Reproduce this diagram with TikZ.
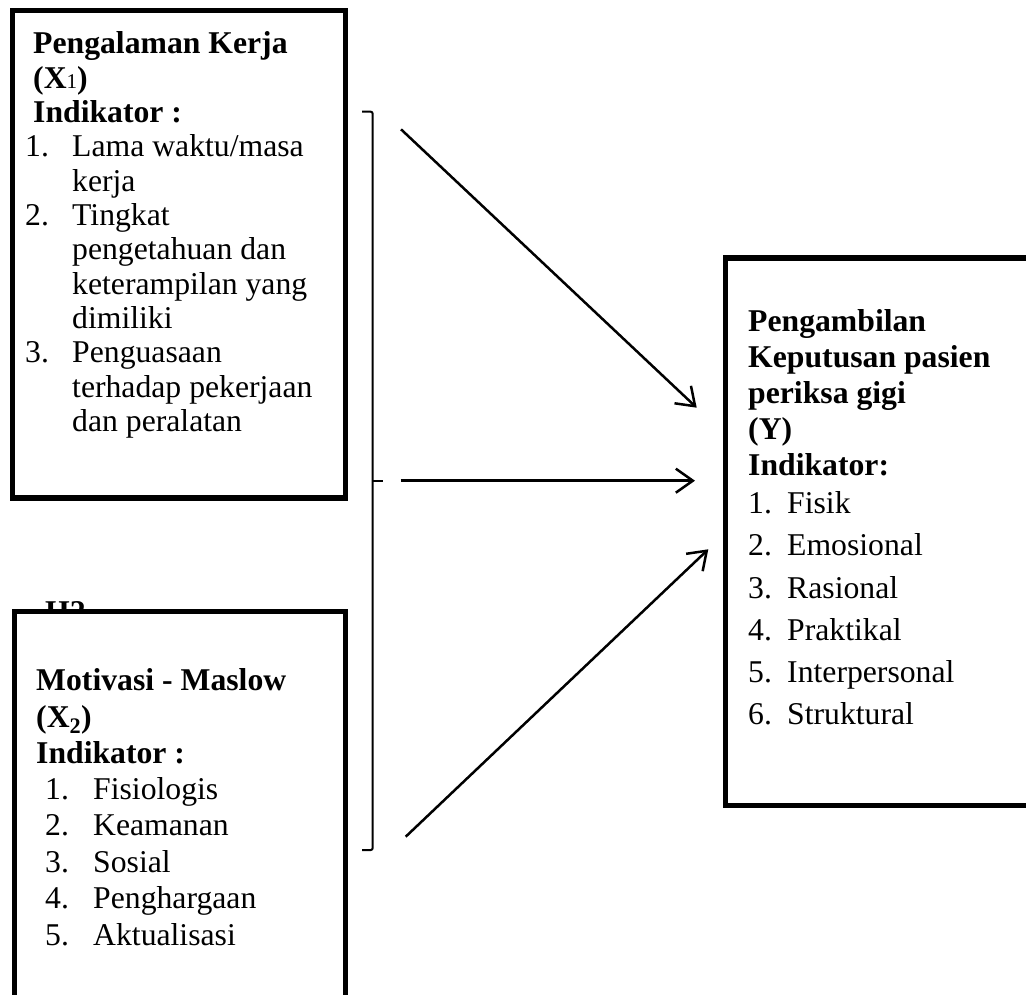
\documentclass[tikz,border=0pt]{standalone}
\usepackage{fontspec}
\setmainfont{Liberation Serif}
\usetikzlibrary{arrows.meta}
\tikzset{
  txt/.style={anchor=base west, inner sep=0pt, font=\fontsize{31.7}{34}\selectfont},
  btxt/.style={anchor=base west, inner sep=0pt, font=\fontsize{31.7}{34}\selectfont\bfseries},
  boxline/.style={draw=black, line width=5.5pt, fill=white, anchor=north west, inner sep=0pt, outer sep=0pt},
  brack/.style={line width=2pt, rounded corners=2pt},
  conn/.style={line width=2.5pt, -{Straight Barb[length=17pt,width=24pt]}},
}
\begin{document}
\begin{tikzpicture}[x=1pt,y=-1pt]
\useasboundingbox (0,0) rectangle (1026,995);
\clip (0,0) rectangle (1026,995);
\fill[white] (0,0) rectangle (1026,995);

% ---- X1 box
\node[boxline, minimum width=333pt, minimum height=487.5pt] (X1) at (12.5,10.5) {};
\node[btxt] (x1a) at (33,54) {Pengalaman Kerja};
\node[btxt] (x1b) at (33,88.3) {(X{\mdseries\fontsize{21}{21}\selectfont 1})};
\node[btxt] (x1c) at (33,122.6) {Indikator :};
\node[txt] (x1n1) at (25,156.9) {1.};
\node[txt] (x1d) at (72,156.9) {Lama waktu/masa};
\node[txt] (x1e) at (72,191.2) {kerja};
\node[txt] (x1n2) at (25,225.5) {2.};
\node[txt] (x1f) at (72,225.5) {Tingkat};
\node[txt] (x1g) at (72,259.8) {pengetahuan dan};
\node[txt] (x1h) at (72,294.1) {keterampilan yang};
\node[txt] (x1i) at (72,328.4) {dimiliki};
\node[txt] (x1n3) at (25,362.7) {3.};
\node[txt] (x1j) at (72,362.7) {Penguasaan};
\node[txt] (x1k) at (72,397.0) {terhadap pekerjaan};
\node[txt] (x1l) at (72,431.3) {dan peralatan};

% ---- hidden H2 label and X2 box
\node[btxt] (h2) at (45,622.5) {H2};
\node[boxline, minimum width=331pt, minimum height=420pt] (X2) at (14.5,611.5) {};
\node[btxt] (x2a) at (36,690) {Motivasi - Maslow};
\node[btxt] (x2b) at (36,727) {(X\textsubscript{2})};
\node[btxt] (x2c) at (36,763) {Indikator :};
\node[txt] (x2n1) at (45,799) {1.};
\node[txt] (x2d) at (93,799) {Fisiologis};
\node[txt] (x2n2) at (45,835.5) {2.};
\node[txt] (x2e) at (93,835.5) {Keamanan};
\node[txt] (x2n3) at (45,872) {3.};
\node[txt] (x2f) at (93,872) {Sosial};
\node[txt] (x2n4) at (45,908.5) {4.};
\node[txt] (x2g) at (93,908.5) {Penghargaan};
\node[txt] (x2n5) at (45,945) {5.};
\node[txt] (x2h) at (93,945) {Aktualisasi};

% ---- Y box
\node[boxline, minimum width=330pt, minimum height=547.5pt] (Y) at (725.5,258) {};
\node[btxt] (ya) at (748,331) {Pengambilan};
\node[btxt] (yb) at (748,367) {Keputusan pasien};
\node[btxt] (yc) at (748,403) {periksa gigi};
\node[btxt] (yd) at (748,439) {(Y)};
\node[btxt] (ye) at (748,475) {Indikator:};
\node[txt] (yn1) at (748,513) {1.};
\node[txt] (yf) at (787,513) {Fisik};
\node[txt] (yn2) at (748,555.5) {2.};
\node[txt] (yg) at (787,555.5) {Emosional};
\node[txt] (yn3) at (748,598) {3.};
\node[txt] (yh) at (787,598) {Rasional};
\node[txt] (yn4) at (748,640) {4.};
\node[txt] (yi) at (787,640) {Praktikal};
\node[txt] (yn5) at (748,682) {5.};
\node[txt] (yj) at (787,682) {Interpersonal};
\node[txt] (yn6) at (748,724) {6.};
\node[txt] (yk) at (787,724) {Struktural};

% ---- bracket
\coordinate (bt) at (362,111.7);
\coordinate (bb) at (362,850);
\coordinate (bm) at (372.7,480.7);
\coordinate (bmt) at (383.3,480.7);
\draw[brack] (bt) -- (372.7,111.7) -- (372.7,850) -- (bb);
\draw[line width=2pt] (bm) -- (bmt);

% ---- connectors
\coordinate (a1s) at (401,129.3);
\coordinate (a1e) at (696.7,407.7);
\coordinate (a2s) at (400.7,480.7);
\coordinate (a2e) at (695,480.7);
\coordinate (a3s) at (405.7,836.7);
\coordinate (a3e) at (708.3,549.3);
\draw[conn] (a1s) -- (a1e);
\draw[conn] (a2s) -- (a2e);
\draw[conn] (a3s) -- (a3e);
\end{tikzpicture}
\end{document}
